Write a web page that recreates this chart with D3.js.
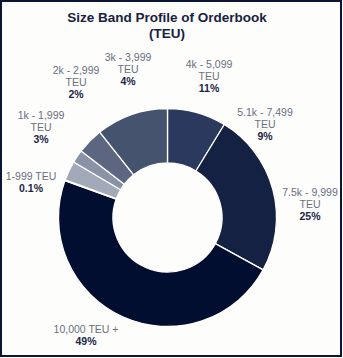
<!DOCTYPE html>
<html>
<head>
<meta charset="utf-8">
<script src="https://cdn.jsdelivr.net/npm/d3@7/dist/d3.min.js"></script>
<style>
  html, body { margin: 0; padding: 0; background: #ffffff; }
  svg { display: block; }
  text { font-family: "Liberation Sans", Arial, sans-serif; }
</style>
</head>
<body>
<svg id="chart" width="343" height="358"></svg>
<script>
// Orderbook by vessel size band (share of TEU), in drawing order clockwise from 12 o'clock
const categories = ["5.1k - 7,499 TEU", "7.5k - 9,999 TEU", "10,000 TEU +", "1-999 TEU",
                    "1k - 1,999 TEU", "2k - 2,999 TEU", "3k - 3,999 TEU", "4k - 5,099 TEU"];
const shares = [9, 25, 49, 0.1, 3, 2, 4, 11];
const shareLabels = ["9%", "25%", "49%", "0.1%", "3%", "2%", "4%", "11%"];
const colours = ["#2a395d", "#142142", "#020e30", "#c8ccd6", "#a3a9b9", "#8a92a7", "#5b6681", "#46536f"];

// label text lines and anchor points (x centre, first baseline)
const labelLines = [
  ["5.1k - 7,499", "TEU"],
  ["7.5k - 9,999", "TEU"],
  ["10,000 TEU +"],
  ["1-999 TEU"],
  ["1k - 1,999", "TEU"],
  ["2k - 2,999", "TEU"],
  ["3k - 3,999", "TEU"],
  ["4k - 5,099", "TEU"]
];
const labelAnchors = [[265, 116], [310, 196], [86, 333], [31, 180], [41, 119], [76, 74], [128, 61], [209, 68]];

const W = 343, H = 358;
const cx = 167.5, cy = 217.5, rOuter = 109, rInner = 54.5;
const lineGap = 12;

const svg = d3.select("#chart");

// background and frame
svg.append("rect").attr("x", 0).attr("y", 0).attr("width", W).attr("height", H).attr("fill", "#ffffff");
svg.append("rect").attr("x", 1).attr("y", 1).attr("width", W - 3).attr("height", H - 3)
  .attr("fill", "#fdfdfb").attr("stroke", "#0b1535").attr("stroke-width", 2);

// title
const title = svg.append("text").attr("text-anchor", "middle").attr("fill", "#17223f")
  .attr("font-size", 13.5).attr("font-weight", "bold");
title.append("tspan").attr("x", 167).attr("y", 22).text("Size Band Profile of Orderbook");
title.append("tspan").attr("x", 167).attr("y", 38).text("(TEU)");

// donut
const data = categories.map((c, i) => ({ name: c, value: shares[i], i }));
const pie = d3.pie().value(d => d.value).sort(null).startAngle(0).endAngle(2 * Math.PI);
const arc = d3.arc().innerRadius(rInner).outerRadius(rOuter);

svg.append("g").attr("transform", `translate(${cx},${cy})`)
  .selectAll("path").data(pie(data)).join("path")
  .attr("d", arc)
  .attr("fill", d => colours[d.data.i])
  .attr("stroke", "#ffffff").attr("stroke-width", 1.3).attr("stroke-linejoin", "round");

// data labels
const labels = svg.append("g");
data.forEach((d, i) => {
  const [x, y] = labelAnchors[i];
  const t = labels.append("text").attr("text-anchor", "middle").attr("font-size", 10.5);
  labelLines[i].forEach((line, k) => {
    t.append("tspan").attr("x", x).attr("y", y + k * lineGap).attr("fill", "#6a6f80").text(line);
  });
  t.append("tspan").attr("x", x).attr("y", y + labelLines[i].length * lineGap)
    .attr("fill", "#1b2747").attr("font-weight", "bold").text(shareLabels[i]);
});
</script>
</body>
</html>
